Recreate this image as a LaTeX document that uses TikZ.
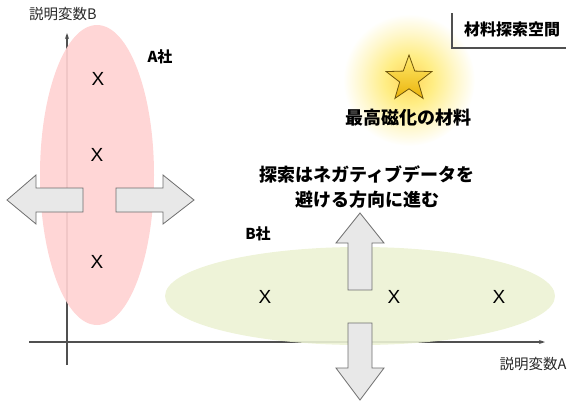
\documentclass[tikz,border=0pt]{standalone}
\usepackage{fontspec}
\newfontfamily\jp{Noto Sans CJK JP}
\newfontfamily\xfont{Liberation Sans}
\usetikzlibrary{shapes.geometric,arrows.meta}
\definecolor{pinkfill}{RGB}{255,210,210}
\definecolor{greenfill}{RGB}{236,242,212}
\definecolor{arrowfill}{RGB}{232,232,232}
\definecolor{arrowline}{RGB}{110,110,110}
\definecolor{axisgray}{RGB}{80,80,80}
\definecolor{textgray}{RGB}{40,40,40}
\definecolor{goldA}{RGB}{255,234,110}
\definecolor{goldB}{RGB}{235,180,10}
\definecolor{starline}{RGB}{110,85,10}
\pgfdeclareradialshading{glow}{\pgfpoint{0bp}{0bp}}{color(0bp)=(goldA!80!orange); color(9bp)=(goldA!85); color(18bp)=(goldA!35); color(25bp)=(white); color(50bp)=(white)}
\tikzset{
  lbl/.style={inner sep=0pt, font=\jp\fontsize{14.5}{16}\selectfont, text=textgray},
  blbl/.style={inner sep=0pt, font=\jp\bfseries\fontsize{15}{17}\selectfont, text=black},
  big/.style={inner sep=0pt, font=\jp\bfseries\fontsize{18}{25}\selectfont, text=black, align=center},
  xmark/.style={inner sep=0pt, font=\xfont\fontsize{19}{20}\selectfont, text=black},
  fatarrow/.style={fill=arrowfill, draw=arrowline, line width=0.8pt, line join=miter},
  axisline/.style={draw=axisgray, line width=1.1pt, -{Stealth[length=6pt,width=4pt]}},
}
\begin{document}
\begin{tikzpicture}[x=1pt,y=-1pt]
\useasboundingbox (0,0) rectangle (575,410);
% axes
\coordinate (yb) at (67,365);
\coordinate (yt) at (67,33);
\coordinate (xl) at (29,342);
\coordinate (xr) at (545,342);
\draw[axisline] (yb) -- (yt);
\draw[axisline] (xl) -- (xr);
% ellipses
\node[ellipse, fill=pinkfill, fill opacity=0.92, minimum width=114pt, minimum height=300pt, inner sep=0pt] (ea) at (97,175) {};
\node[ellipse, fill=greenfill, fill opacity=0.9, minimum width=390pt, minimum height=98pt, inner sep=0pt] (eb) at (360,296) {};
% axis labels
\node[lbl] (labB) at (63,14) {説明変数B};
\node[lbl] (labA) at (533,364) {説明変数A};
% company labels
\node[blbl] (coA) at (160,57) {A社};
\node[blbl] (coB) at (258,234) {B社};
% X marks
\node[xmark] (x1) at (98,79) {X};
\node[xmark] (x2) at (97,155) {X};
\node[xmark] (x3) at (97,262) {X};
\node[xmark] (x4) at (265,297) {X};
\node[xmark] (x5) at (394,297) {X};
\node[xmark] (x6) at (499,297) {X};
% fat arrows
\draw[fatarrow] (7,200) -- (36,175) -- (36,188) -- (83,188) -- (83,212) -- (36,212) -- (36,224) -- cycle;
\draw[fatarrow] (194,200) -- (163,175) -- (163,188) -- (116,188) -- (116,212) -- (163,212) -- (163,224) -- cycle;
\draw[fatarrow] (360,213) -- (384,243) -- (372,243) -- (372,290) -- (348,290) -- (348,243) -- (336,243) -- cycle;
\draw[fatarrow] (360,400) -- (384,368) -- (372,368) -- (372,323) -- (348,323) -- (348,368) -- (336,368) -- cycle;
% glow and star
\shade[shading=glow] (409,80) circle (66);
\node[star, star points=5, star point ratio=2.45, minimum size=48pt, inner sep=0pt, draw=starline, line width=0.8pt, top color=goldA, bottom color=goldB] (star) at (409,79) {};
\node[big] (best) at (408,118) {最高磁化の材料};
% search text
\node[big] (search) at (367,187) {探索はネガティブデータを\\避ける方向に進む};
% title box
\coordinate (bt) at (452,13);
\coordinate (bc) at (452,48);
\coordinate (br) at (566,48);
\draw[draw=axisgray, line width=1.1pt] (bt) -- (bc) -- (br);
\node[inner sep=0pt, font=\jp\bfseries\fontsize{16}{18}\selectfont] (title) at (512,29) {材料探索空間};
\end{tikzpicture}
\end{document}
